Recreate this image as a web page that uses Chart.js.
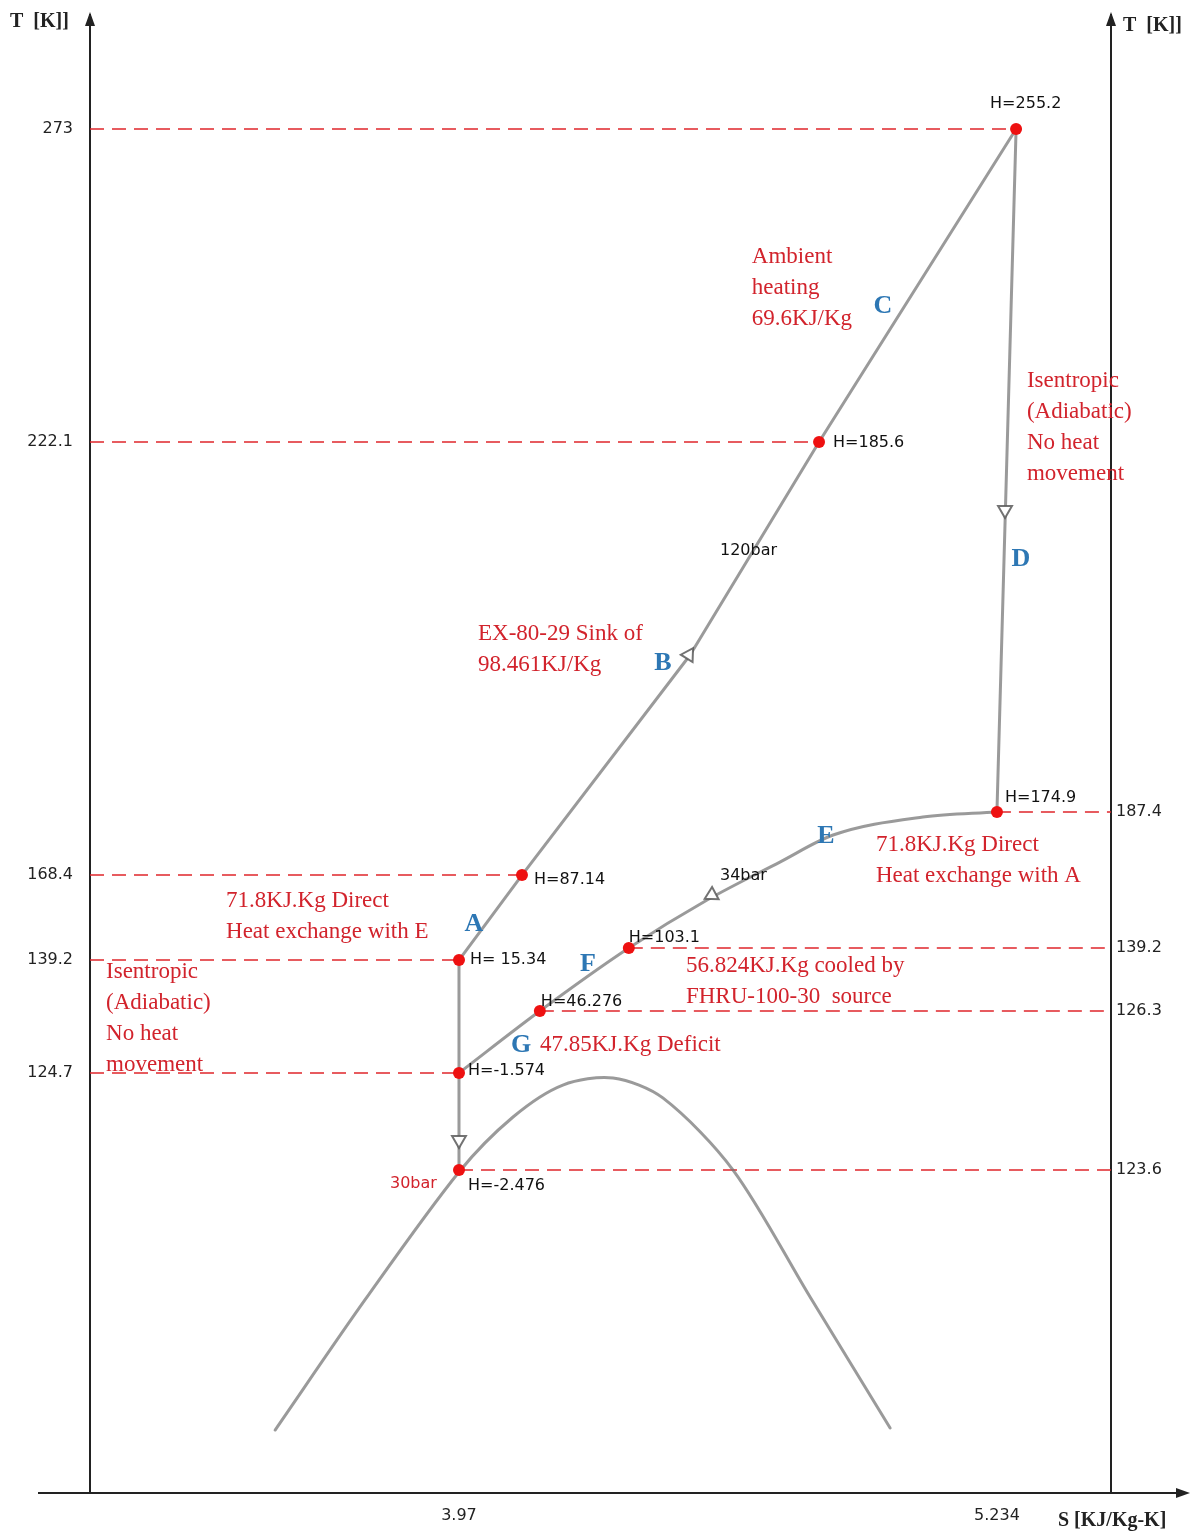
<!DOCTYPE html>
<html>
<head>
<meta charset="utf-8">
<title>T-S diagram</title>
<script src="https://cdn.jsdelivr.net/npm/chart.js@4.4.1/dist/chart.umd.min.js"></script>
<style>
  html, body { margin: 0; padding: 0; background: #fff; overflow: hidden; }
  canvas { display: block; }
</style>
</head>
<body>
<canvas id="ts" width="1198" height="1533"></canvas>
<script>
// state points on the sketch (S in KJ/Kg-K, Y = height on the sketch, not a true temperature)
const STATE_H = ['H=255.2', 'H=185.6', 'H=87.14', 'H= 15.34', 'H=-1.574', 'H=-2.476', 'H=174.9', 'H=103.1', 'H=46.276'];
const STATE_S = [5.279, 4.816, 4.118, 3.97, 3.97, 3.97, 5.234, 4.369, 4.160];
const STATE_Y = [92.29, 71.11, 41.81, 36.06, 28.42, 21.85, 46.08, 36.87, 32.61];
const STATE_T = ['273', '222.1', '168.4', '139.2', '124.7', '123.6', '187.4', '139.2', '126.3'];
const STATE_SIDE = ['left', 'left', 'left', 'left', 'left', 'right', 'right', 'right', 'right'];

// process lines
const HEAT_S = [3.97, 4.118, 4.513, 4.816, 5.279];          // A - B - C (120 bar)
const HEAT_Y = [36.06, 41.81, 56.70, 71.11, 92.29];
const EXPAND_S = [5.279, 5.234];                              // D
const EXPAND_Y = [92.29, 46.08];
const COOL_S = [3.97, 4.160, 4.369, 4.553, 4.724, 4.849, 5.060, 5.234];   // G - F - E (34 bar)
const COOL_Y = [28.42, 32.61, 36.87, 40.12, 42.69, 44.52, 45.74, 46.08];
const DROP_S = [3.97, 3.97, 3.97];                            // isentropic drop to 30 bar
const DROP_Y = [36.06, 28.42, 21.85];
const DOME_S = [3.538, 3.749, 3.97, 4.097, 4.214, 4.332, 4.449, 4.614, 4.795, 4.983];
const DOME_Y = [4.26, 13.06, 21.72, 25.44, 27.60, 28.08, 26.73, 21.85, 13.26, 4.40];

// flow arrows
const ARROW_S = [4.510, 5.253, 4.564, 3.97];
const ARROW_Y = [56.70, 66.51, 40.46, 23.88];

// axis ticks
const S_TICKS = [3.97, 5.234];
const S_TICK_LABELS = ['3.97', '5.234'];

// annotations: [text, S, Y, kind]
const NOTES = [
  ['Ambient\nheating\n69.6KJ/Kg', 4.658, 83.63, 'red'],
  ['Isentropic\n(Adiabatic)\nNo heat\nmovement', 5.3045, 75.24, 'red'],
  ['Isentropic\n(Adiabatic)\nNo heat\nmovement', 3.1407, 35.25, 'red'],
  ['EX-80-29 Sink of\n98.461KJ/Kg', 4.0146, 58.12, 'red'],
  ['71.8KJ.Kg Direct\nHeat exchange with E', 3.4226, 40.05, 'red'],
  ['71.8KJ.Kg Direct\nHeat exchange with A', 4.9497, 43.84, 'red'],
  ['56.824KJ.Kg cooled by\nFHRU-100-30  source', 4.5033, 35.66, 'red'],
  ['47.85KJ.Kg Deficit', 4.1603, 30.31, 'red'],
  ['C', 4.9662, 80.31, 'blue'],
  ['B', 4.4493, 56.16, 'blue'],
  ['A', 4.0052, 38.50, 'blue'],
  ['D', 5.2904, 63.19, 'blue'],
  ['E', 4.8323, 44.45, 'blue'],
  ['F', 4.2731, 35.79, 'blue'],
  ['G', 4.1157, 30.31, 'blue'],
  ['120bar', 4.5832, 63.73, 'bar'],
  ['34bar', 4.5832, 41.75, 'bar'],
  ['30bar', 3.8079, 20.91, 'barRed']
];

const X_MIN = 3.103, X_MAX = 5.502;
const H_OFFSET = [[-26, -25], [14, 1], [12, 5], [11, 0], [9, -2], [9, 16], [8, -14], [0, -10], [1, -9]];
const NOTE_STYLE = {
  red:    { font: '23px "Liberation Serif"', color: '#d2232c', align: 'left', lh: 31 },
  blue:   { font: 'bold 26px "Liberation Serif"', color: '#2d77b4', align: 'center', lh: 30 },
  bar:    { font: '16px "DejaVu Sans"', color: '#111', align: 'left', lh: 20 },
  barRed: { font: '16px "DejaVu Sans"', color: '#d2232c', align: 'left', lh: 20 }
};
const LINE_GREY = 'rgba(115,115,115,0.72)';
const GUIDE_RED = '#e0262b';

const pts = (xs, ys) => xs.map((v, i) => ({ x: v, y: ys[i] }));
const LEFT_IDX = STATE_SIDE.map((s, i) => s === 'left' ? i : -1).filter(i => i >= 0);
const RIGHT_IDX = STATE_SIDE.map((s, i) => s === 'right' ? i : -1).filter(i => i >= 0);

function pathSet(xs, ys, tension, mode) {
  return {
    data: pts(xs, ys), showLine: true, pointRadius: 0, order: 2,
    borderColor: LINE_GREY, borderWidth: 3, borderJoinStyle: 'round', borderCapStyle: 'round',
    tension: tension, cubicInterpolationMode: mode || 'default'
  };
}

const guideSets = STATE_S.map((s, i) => ({
  data: STATE_SIDE[i] === 'left'
    ? [{ x: X_MIN, y: STATE_Y[i] }, { x: s, y: STATE_Y[i] }]
    : [{ x: s, y: STATE_Y[i] }, { x: X_MAX, y: STATE_Y[i] }],
  showLine: true, pointRadius: 0, order: 3,
  borderColor: GUIDE_RED, borderWidth: 1.6, borderDash: [14, 8]
}));

const datasets = [
  { data: pts(STATE_S, STATE_Y), pointRadius: 6, backgroundColor: '#ee1111', borderWidth: 0, order: 0 },
  {
    data: pts(ARROW_S, ARROW_Y), pointStyle: 'triangle', pointRadius: 8, order: 1,
    rotation: [32, 180, 242, 180], backgroundColor: '#fff', borderColor: 'rgba(90,90,90,0.85)', borderWidth: 2
  },
  pathSet(HEAT_S, HEAT_Y, 0),
  pathSet(EXPAND_S, EXPAND_Y, 0),
  pathSet(COOL_S, COOL_Y, 0.4, 'monotone'),
  pathSet(DROP_S, DROP_Y, 0),
  pathSet(DOME_S, DOME_Y, 0.3),
  ...guideSets
];

// labels written on the sketch
const textPlugin = {
  id: 'sketchText',
  afterDatasetsDraw(chart) {
    const { ctx, scales: { x, y } } = chart;
    ctx.save();
    ctx.textBaseline = 'middle';
    ctx.font = '16px "DejaVu Sans"';
    ctx.fillStyle = '#111';
    ctx.textAlign = 'left';
    STATE_H.forEach((t, i) => {
      ctx.fillText(t, x.getPixelForValue(STATE_S[i]) + H_OFFSET[i][0], y.getPixelForValue(STATE_Y[i]) + H_OFFSET[i][1]);
    });
    NOTES.forEach(([text, s, v, kind]) => {
      const st = NOTE_STYLE[kind];
      ctx.font = st.font;
      ctx.fillStyle = st.color;
      ctx.textAlign = st.align;
      const px = x.getPixelForValue(s), py = y.getPixelForValue(v);
      text.split('\n').forEach((line, k) => ctx.fillText(line, px, py + k * st.lh));
    });
    ctx.restore();
  }
};

// axis arrows and titles
const axisPlugin = {
  id: 'axisDeco',
  afterDraw(chart) {
    const { ctx, chartArea: a } = chart;
    ctx.save();
    ctx.strokeStyle = '#222';
    ctx.fillStyle = '#222';
    ctx.lineWidth = 2;
    ctx.beginPath();
    ctx.moveTo(a.left - 52, a.bottom);
    ctx.lineTo(a.right + 72, a.bottom);
    ctx.stroke();
    const head = (tx, ty, dir) => {
      ctx.beginPath();
      if (dir === 'up') { ctx.moveTo(tx, ty); ctx.lineTo(tx - 5, ty + 14); ctx.lineTo(tx + 5, ty + 14); }
      else { ctx.moveTo(tx, ty); ctx.lineTo(tx - 14, ty - 5); ctx.lineTo(tx - 14, ty + 5); }
      ctx.closePath();
      ctx.fill();
    };
    head(a.right + 79, a.bottom, 'right');
    head(a.left, a.top - 3, 'up');
    head(a.right, a.top - 3, 'up');
    ctx.font = 'bold 20px "Liberation Serif"';
    ctx.textBaseline = 'middle';
    ctx.textAlign = 'left';
    ctx.fillText('T  [K]]', 10, 22);
    ctx.fillText('T  [K]]', a.right + 12, 26);
    ctx.fillText('S [KJ/Kg-K]', a.right - 53, a.bottom + 28);
    ctx.restore();
  }
};

const tickFont = { family: 'DejaVu Sans', size: 16 };
const noPad = s => { s.paddingTop = 0; s.paddingBottom = 0; s.paddingLeft = 0; s.paddingRight = 0; };

new Chart(document.getElementById('ts'), {
  type: 'scatter',
  data: { datasets: datasets },
  options: {
    responsive: false,
    animation: false,
    events: [],
    layout: { padding: { top: 15, left: 0, right: 0, bottom: 0 } },
    plugins: { legend: { display: false }, tooltip: { enabled: false } },
    scales: {
      x: {
        type: 'linear', min: X_MIN, max: X_MAX, position: 'bottom',
        grid: { display: false, drawTicks: false },
        border: { display: false },
        afterBuildTicks: s => { s.ticks = S_TICKS.map(v => ({ value: v })); },
        afterFit: s => { s.height = 40; noPad(s); },
        ticks: { font: tickFont, color: '#222', padding: 13, maxRotation: 0, autoSkip: false,
          callback: (v, i) => S_TICK_LABELS[i] }
      },
      y: {
        type: 'linear', min: 0, max: 100, position: 'left',
        grid: { display: false, drawTicks: false },
        border: { display: true, color: '#222', width: 2 },
        afterBuildTicks: s => { s.ticks = LEFT_IDX.map(i => ({ value: STATE_Y[i] })); },
        afterFit: s => { s.width = 90; noPad(s); },
        ticks: { font: tickFont, color: '#222', padding: 17, autoSkip: false,
          callback: (v, i) => STATE_T[LEFT_IDX[i]] }
      },
      y2: {
        type: 'linear', min: 0, max: 100, position: 'right',
        grid: { display: false, drawTicks: false },
        border: { display: true, color: '#222', width: 2 },
        afterBuildTicks: s => { s.ticks = RIGHT_IDX.map(i => ({ value: STATE_Y[i] })); },
        afterFit: s => { s.width = 87; noPad(s); },
        ticks: { font: tickFont, color: '#222', padding: 5, autoSkip: false,
          callback: (v, i) => STATE_T[RIGHT_IDX[i]] }
      }
    }
  },
  plugins: [textPlugin, axisPlugin]
});
</script>
</body>
</html>
